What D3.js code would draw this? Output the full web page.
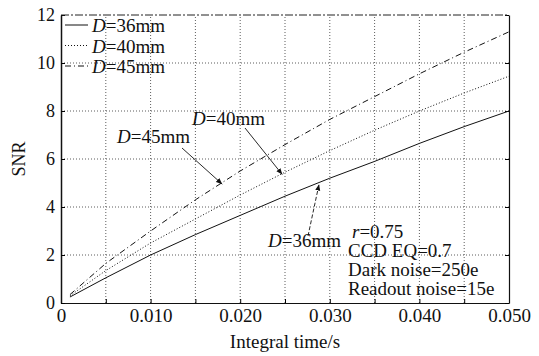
<!DOCTYPE html>
<html>
<head>
<meta charset="utf-8">
<script src="https://cdn.jsdelivr.net/npm/d3@7"></script>
<style>
  body { margin: 0; background: #fff; }
  text { font-family: "Liberation Serif", "DejaVu Serif", serif; fill: #111; }
</style>
</head>
<body>
<div id="chart"></div>
<script>
// integral time (s)
var times = [0.001, 0.005, 0.010, 0.015, 0.020, 0.025, 0.030, 0.035, 0.040, 0.045, 0.050];
// SNR
var snr36 = [0.25, 1.05, 2.0, 2.85, 3.65, 4.45, 5.2, 5.9, 6.65, 7.35, 8.0];
var snr40 = [0.3, 1.35, 2.5, 3.5, 4.5, 5.45, 6.35, 7.2, 8.0, 8.75, 9.45];
var snr45 = [0.35, 1.65, 3.0, 4.3, 5.5, 6.6, 7.65, 8.6, 9.55, 10.45, 11.3];
var seriesNames = ['36mm', '40mm', '45mm'];
var xTickLabels = [0, 0.010, 0.020, 0.030, 0.040, 0.050];
var yTickLabels = [0, 2, 4, 6, 8, 10, 12];
var paramLines = ['CCD EQ=0.7', 'Dark noise=250e', 'Readout noise=15e'];

var W = 539, H = 356;
var svg = d3.select('#chart').append('svg')
  .attr('width', W).attr('height', H);

var x = d3.scaleLinear().domain([0, 0.05]).range([61, 509]);
var y = d3.scaleLinear().domain([0, 12]).range([303, 15]);

var dashes = ['none', '1,2', '6,3,1,3'];
var series = [snr36, snr40, snr45];
var minorX = d3.range(0, 0.0501, 0.005);

// grid
var grid = svg.append('g').attr('stroke', '#333').attr('stroke-width', 0.8)
  .attr('stroke-dasharray', '1,2');
minorX.slice(1, -1).forEach(function (t) {
  grid.append('line').attr('x1', x(t)).attr('x2', x(t)).attr('y1', y(0)).attr('y2', y(12));
});
d3.range(2, 12, 2).forEach(function (v) {
  grid.append('line').attr('x1', x(0)).attr('x2', x(0.05)).attr('y1', y(v)).attr('y2', y(v));
});

// axes
svg.append('g').attr('transform', 'translate(0,' + y(0) + ')')
  .call(d3.axisBottom(x).tickValues(minorX).tickSizeInner(-4).tickSizeOuter(0).tickPadding(6)
    .tickFormat(function (d) {
      var k = Math.round(d * 1000);
      if (k % 10 !== 0) return '';
      return k === 0 ? '0' : d3.format('.3f')(d);
    }))
  .call(function (g) {
    g.select('.domain').attr('stroke', '#111').attr('stroke-width', 1.2);
    g.selectAll('text').attr('font-size', 19).attr('font-family', 'Liberation Serif').attr('fill', '#111');
  });
svg.append('g').attr('transform', 'translate(' + x(0) + ',0)')
  .call(d3.axisLeft(y).tickValues(yTickLabels).tickSizeInner(-4).tickSizeOuter(0).tickPadding(6))
  .call(function (g) {
    g.select('.domain').attr('stroke', '#111').attr('stroke-width', 1.5);
    g.selectAll('text').attr('font-size', 18).attr('font-family', 'Liberation Serif').attr('fill', '#111');
  });
svg.append('g').attr('transform', 'translate(' + x(0.05) + ',0)')
  .call(d3.axisRight(y).tickValues(yTickLabels).tickSizeInner(-4).tickSizeOuter(0).tickFormat(''))
  .call(function (g) { g.select('.domain').attr('stroke', '#111').attr('stroke-width', 1.2); });
svg.append('line').attr('x1', x(0)).attr('x2', x(0.05)).attr('y1', y(12)).attr('y2', y(12))
  .attr('stroke', '#222').attr('stroke-width', 1).attr('stroke-dasharray', '8,2,2,2');

// series
var line = d3.line().x(function (d, i) { return x(times[i]); }).y(function (d) { return y(d); });
series.forEach(function (s, k) {
  svg.append('path').datum(s).attr('d', line)
    .attr('fill', 'none').attr('stroke', '#111').attr('stroke-width', 1)
    .attr('stroke-dasharray', dashes[k]);
});

function dLabel(tx, ty, n) {
  var t = svg.append('text').attr('x', tx).attr('y', ty).attr('font-size', 19);
  t.append('tspan').attr('font-style', 'italic').text('D');
  t.append('tspan').text('=' + n);
}

// legend
seriesNames.forEach(function (n, k) {
  var ly = 32 + k * 20.5;
  svg.append('line').attr('x1', 65).attr('x2', 88).attr('y1', ly - 7).attr('y2', ly - 7)
    .attr('stroke', '#111').attr('stroke-width', 1).attr('stroke-dasharray', dashes[k]);
  dLabel(92, ly, n);
});

// annotations
svg.append('defs').append('marker').attr('id', 'arr')
  .attr('viewBox', '0 0 10 10').attr('refX', 10).attr('refY', 5)
  .attr('markerWidth', 7).attr('markerHeight', 7).attr('orient', 'auto')
  .append('path').attr('d', 'M0,1 L10,5 L0,9 z').attr('fill', '#111');

function arrow(x1, y1, t, v, dash) {
  svg.append('line').attr('x1', x1).attr('y1', y1).attr('x2', x(t)).attr('y2', y(v))
    .attr('stroke', '#111').attr('stroke-width', 0.9)
    .attr('stroke-dasharray', dash || null)
    .attr('marker-end', 'url(#arr)');
}
dLabel(117, 143, seriesNames[2]);
arrow(182, 148, 0.0180, 4.95);
dLabel(192, 125, seriesNames[1]);
arrow(245, 128, 0.0247, 5.35);
dLabel(268, 247, seriesNames[0]);
arrow(308, 236, 0.0288, 4.95, '4,2');

// parameters
var pt = svg.append('text').attr('x', 352).attr('y', 238).attr('font-size', 19);
pt.append('tspan').attr('font-style', 'italic').text('r');
pt.append('tspan').text('=0.75');
paramLines.forEach(function (s, i) {
  svg.append('text').attr('x', 348).attr('y', 257 + i * 19).attr('font-size', 19).text(s);
});

// axis titles
svg.append('text').attr('x', 285).attr('y', 348).attr('text-anchor', 'middle')
  .attr('font-size', 19).text('Integral time/s');
svg.append('text').attr('transform', 'translate(25,159) rotate(-90)').attr('text-anchor', 'middle')
  .attr('font-size', 18).text('SNR');
</script>
</body>
</html>
